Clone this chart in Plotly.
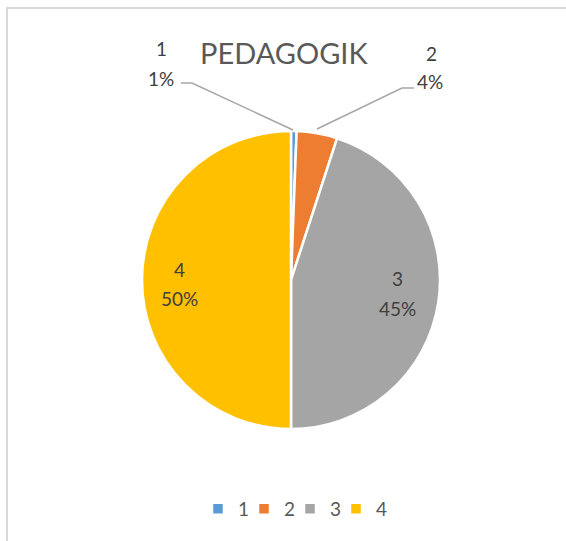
import plotly.graph_objects as go

categories = ["1", "2", "3", "4"]
values = [0.6, 4.4, 45.0, 50.0]
colors = ["#5B9BD5", "#ED7D31", "#A5A5A5", "#FFC000"]
title_text = "PEDAGOGIK"

W, H = 566, 541
total = sum(values)
pct_text = [f"{round(v / total * 100)}%" for v in values]

FONT = "Lato, 'Open Sans', sans-serif"
LBL = dict(family=FONT, size=19, color="#404040")


def px(x):
    return x / W


def py(y):
    return 1 - y / H


fig = go.Figure()
fig.add_trace(go.Pie(
    labels=categories,
    values=values,
    sort=False,
    direction="clockwise",
    rotation=0,
    marker=dict(colors=colors, line=dict(color="white", width=2.5)),
    textinfo="none",
    domain=dict(x=[px(142), px(440)], y=[py(429), py(131)]),
    showlegend=True,
    hoverinfo="label+percent",
))

# label anchor positions (pixel) for category name and percentage, per slice
name_pos = [(161, 48), (431, 53), (397, 278), (179, 269)]
pct_pos = [(161, 79), (430, 81), (397, 308), (179, 298)]

annotations = [
    dict(text=title_text, x=px(284), y=py(52), xref="paper", yref="paper",
         xanchor="center", yanchor="middle",
         showarrow=False, font=dict(family=FONT, size=29, color="#595959")),
]
for c, t, (nx, ny), (qx, qy) in zip(categories, pct_text, name_pos, pct_pos):
    annotations.append(dict(text=c, x=px(nx), y=py(ny), xref="paper", yref="paper",
                            xanchor="center", yanchor="middle",
                            showarrow=False, font=LBL))
    annotations.append(dict(text=t, x=px(qx), y=py(qy), xref="paper", yref="paper",
                            xanchor="center", yanchor="middle",
                            showarrow=False, font=LBL))

shapes = [
    dict(type="rect", xref="paper", yref="paper", x0=px(7), y0=-0.05, x1=1.05, y1=py(8),
         line=dict(color="#D9D9D9", width=2), fillcolor="rgba(0,0,0,0)"),
    dict(type="path", xref="paper", yref="paper",
         path=f"M {px(181)} {py(83)} L {px(192)} {py(83)} L {px(293)} {py(130)}",
         line=dict(color="#A6A6A6", width=1.5)),
    dict(type="path", xref="paper", yref="paper",
         path=f"M {px(317)} {py(129)} L {px(402)} {py(88)} L {px(414)} {py(88)}",
         line=dict(color="#A6A6A6", width=1.5)),
]

fig.update_layout(
    width=W, height=H,
    margin=dict(l=0, r=0, t=0, b=0, autoexpand=False),
    paper_bgcolor="white",
    plot_bgcolor="white",
    annotations=annotations,
    shapes=shapes,
    legend=dict(orientation="h", x=px(198), xanchor="left", y=py(509), yanchor="middle",
                font=dict(family=FONT, size=19, color="#595959"),
                itemwidth=30, entrywidth=1, entrywidthmode="pixels",
                traceorder="normal", bgcolor="rgba(0,0,0,0)"),
)

post = (
    "document.body.style.margin='0';"
    "document.querySelectorAll('.legend .scrollbox, .legend').forEach("
    "function(e){e.removeAttribute('clip-path');});"
)
fig.write_html("out.html", post_script=post, config={"displayModeBar": False})
